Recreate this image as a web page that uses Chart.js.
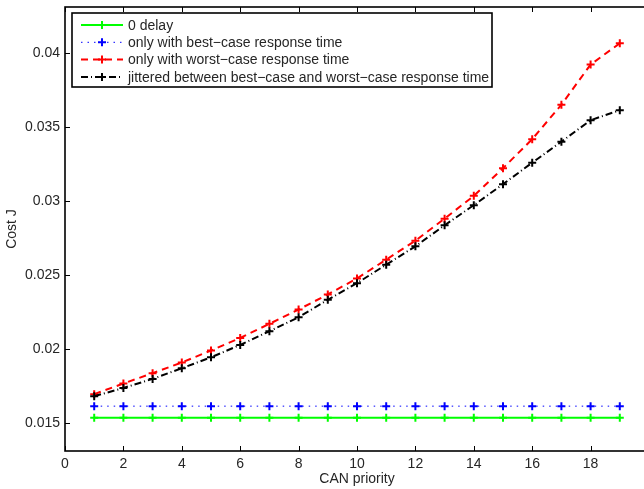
<!DOCTYPE html>
<html>
<head>
  <meta charset="UTF-8">
  <title>Cost J vs CAN priority</title>
  <script src="https://cdn.jsdelivr.net/npm/chart.js"></script>
  <style>
    body {
      margin: 0;
      background: #fff;
      overflow: hidden;
    }
    .chart-container {
      position: relative;
      width: 660px;
      height: 489px;
    }
  </style>
</head>
<body>
  <div class="chart-container">
    <canvas id="costChart"></canvas>
  </div>

  <script>
    // data
    const priorities = [1, 2, 3, 4, 5, 6, 7, 8, 9, 10, 11, 12, 13, 14, 15, 16, 17, 18, 19];
    const zeroDelay = [0.01534, 0.01534, 0.01534, 0.01534, 0.01534, 0.01534, 0.01534, 0.01534, 0.01534, 0.01534,
                       0.01534, 0.01534, 0.01534, 0.01534, 0.01534, 0.01534, 0.01534, 0.01534, 0.01534];
    const bestCase = [0.01613, 0.01613, 0.01613, 0.01613, 0.01613, 0.01613, 0.01613, 0.01613, 0.01613, 0.01613,
                      0.01613, 0.01613, 0.01613, 0.01613, 0.01613, 0.01613, 0.01613, 0.01613, 0.01613];
    const worstCase = [0.01694, 0.01766, 0.01836, 0.01908, 0.01989, 0.02074, 0.02169, 0.02266, 0.02368, 0.02476,
                       0.02603, 0.02731, 0.02880, 0.03034, 0.03221, 0.03417, 0.03650, 0.03921, 0.04065];
    const jittered = [0.01680, 0.01736, 0.01797, 0.01869, 0.01943, 0.02027, 0.02119, 0.02214, 0.02332, 0.02444,
                      0.02569, 0.02693, 0.02835, 0.02971, 0.03113, 0.03258, 0.03400, 0.03545, 0.03613];
    const seriesNames = [
      '0 delay',
      'only with best\u2212case response time',
      'only with worst\u2212case response time',
      'jittered between best\u2212case and worst\u2212case response time'
    ];
    const xTicks = [0, 2, 4, 6, 8, 10, 12, 14, 16, 18, 20];
    const xTickLabels = ['0', '2', '4', '6', '8', '10', '12', '14', '16', '18', ''];
    const yTicks = [0.015, 0.02, 0.025, 0.03, 0.035, 0.04];
    const yTickLabels = ['0.015', '0.02', '0.025', '0.03', '0.035', '0.04'];

    const FONT = '"Liberation Sans", Arial, Helvetica, sans-serif';
    const TEXT = '#262626';

    function toPoints(values) {
      return priorities.map((p, i) => ({ x: p, y: values[i] }));
    }

    // inward ticks + box round the axes, like matlab
    const axesBox = {
      id: 'axesBox',
      afterDatasetsDraw(chart) {
        const { ctx, chartArea: a, scales } = chart;
        ctx.save();
        ctx.strokeStyle = '#000';
        ctx.lineWidth = 1;
        ctx.beginPath();
        xTicks.forEach(v => {
          const px = Math.round(scales.x.getPixelForValue(v)) + 0.5;
          ctx.moveTo(px, a.bottom); ctx.lineTo(px, a.bottom - 5);
          ctx.moveTo(px, a.top); ctx.lineTo(px, a.top + 5);
        });
        yTicks.forEach(v => {
          const py = Math.round(scales.y.getPixelForValue(v)) + 0.5;
          ctx.moveTo(a.left, py); ctx.lineTo(a.left + 5, py);
          ctx.moveTo(a.right, py); ctx.lineTo(a.right - 5, py);
        });
        ctx.stroke();
        ctx.lineWidth = 1.6;
        ctx.strokeRect(a.left, a.top, a.right - a.left, a.bottom - a.top);
        ctx.restore();
      }
    };

    // legend box in the top left corner of the axes
    const boxLegend = {
      id: 'boxLegend',
      afterDraw(chart) {
        const { ctx, chartArea: a } = chart;
        const x0 = a.left + 7, y0 = a.top + 6, w = 420, h = 74;
        ctx.save();
        ctx.fillStyle = '#fff';
        ctx.fillRect(x0, y0, w, h);
        ctx.strokeStyle = '#000';
        ctx.lineWidth = 1.6;
        ctx.strokeRect(x0, y0, w, h);
        const ds = chart.data.datasets;
        ds.forEach((d, i) => {
          const y = y0 + 12 + i * 17.3;
          ctx.strokeStyle = d.borderColor;
          ctx.lineWidth = d.borderWidth;
          ctx.setLineDash(d.borderDash || []);
          ctx.beginPath();
          ctx.moveTo(x0 + 9, y);
          ctx.lineTo(x0 + 51, y);
          ctx.stroke();
          ctx.setLineDash([]);
          ctx.lineWidth = 2;
          ctx.beginPath();
          ctx.moveTo(x0 + 30 - 4, y); ctx.lineTo(x0 + 30 + 4, y);
          ctx.moveTo(x0 + 30, y - 4); ctx.lineTo(x0 + 30, y + 4);
          ctx.stroke();
          ctx.fillStyle = TEXT;
          ctx.font = '14px ' + FONT;
          ctx.textBaseline = 'middle';
          ctx.fillText(d.label, x0 + 56, y + 1);
        });
        ctx.restore();
      }
    };

    const ctx = document.getElementById('costChart').getContext('2d');
    const costChart = new Chart(ctx, {
      type: 'line',
      data: {
        datasets: [
          {
            label: seriesNames[0],
            data: toPoints(zeroDelay),
            borderColor: '#00ff00',
            borderWidth: 2,
            pointStyle: 'cross',
            pointRadius: 4,
            pointBorderWidth: 2,
            order: 3
          },
          {
            label: seriesNames[1],
            data: toPoints(bestCase),
            borderColor: '#0000ff',
            borderWidth: 1,
            borderDash: [1.5, 5],
            pointStyle: 'cross',
            pointRadius: 4,
            pointBorderWidth: 2,
            order: 2
          },
          {
            label: seriesNames[2],
            data: toPoints(worstCase),
            borderColor: '#ff0000',
            borderWidth: 2,
            borderDash: [7, 5],
            pointStyle: 'cross',
            pointRadius: 4,
            pointBorderWidth: 2,
            order: 1
          },
          {
            label: seriesNames[3],
            data: toPoints(jittered),
            borderColor: '#000000',
            borderWidth: 2,
            borderDash: [7, 3, 1, 3],
            pointStyle: 'cross',
            pointRadius: 4,
            pointBorderWidth: 2,
            order: 0
          }
        ]
      },
      options: {
        responsive: true,
        maintainAspectRatio: false,
        animation: false,
        layout: { padding: { top: 7, right: 11, left: 0, bottom: 0 } },
        scales: {
          x: {
            type: 'linear',
            min: 0,
            max: 20,
            afterFit: s => { s.height = 38; s.paddingLeft = 0; s.paddingRight = 0; },
            afterBuildTicks: s => { s.ticks = xTicks.map(v => ({ value: v })); },
            grid: { display: false, drawTicks: false },
            border: { display: false },
            ticks: {
              autoSkip: false,
              maxRotation: 0,
              padding: 5,
              color: TEXT,
              font: { family: FONT, size: 14 },
              callback: (v, i) => xTickLabels[i]
            },
            title: {
              display: true,
              text: 'CAN priority',
              color: TEXT,
              font: { family: FONT, size: 14 },
              padding: { top: 0, bottom: 1 }
            }
          },
          y: {
            min: 0.0131,
            max: 0.0431,
            afterFit: s => { s.width = 65; s.paddingTop = 0; s.paddingBottom = 0; },
            afterBuildTicks: s => { s.ticks = yTicks.map(v => ({ value: v })); },
            grid: { display: false, drawTicks: false },
            border: { display: false },
            ticks: {
              padding: 5,
              color: TEXT,
              font: { family: FONT, size: 14 },
              callback: (v, i) => yTickLabels[i]
            },
            title: {
              display: true,
              text: 'Cost J',
              color: TEXT,
              font: { family: FONT, size: 14 },
              padding: { top: 3.5, bottom: 0 }
            }
          }
        },
        plugins: {
          legend: { display: false },
          tooltip: { enabled: false }
        }
      },
      plugins: [axesBox, boxLegend]
    });
  </script>
</body>
</html>
